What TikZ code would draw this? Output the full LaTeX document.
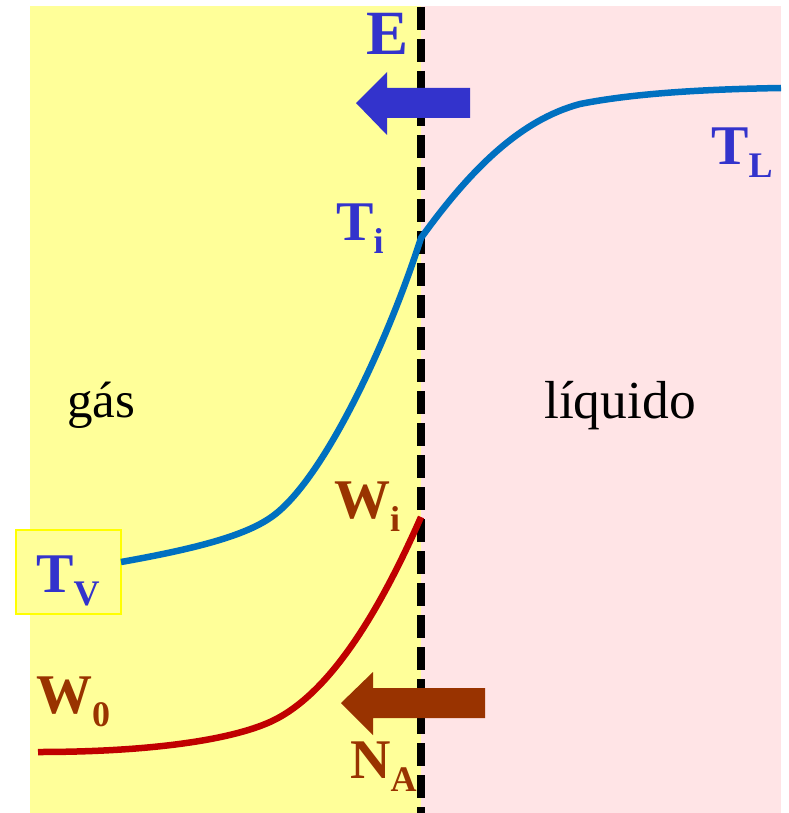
\documentclass[tikz,border=0pt]{standalone}
\usepackage{fontspec}
\setmainfont{Liberation Serif}
\definecolor{gasbg}{HTML}{FFFF99}
\definecolor{liqbg}{HTML}{FFE4E6}
\definecolor{tblue}{HTML}{3333CC}
\definecolor{cblue}{HTML}{0070C0}
\definecolor{cred}{HTML}{C00000}
\definecolor{tbrown}{HTML}{993300}
\definecolor{boxyellow}{HTML}{FFFF00}
\newcommand\mysub[1]{\raisebox{-13pt}{\fontsize{36}{38}\selectfont #1}}
\begin{document}
\begin{tikzpicture}[x=1pt,y=-1pt,
  lbl/.style={inner sep=0pt, anchor=base west, font=\bfseries\fontsize{56}{60}\selectfont},
  bluelbl/.style={lbl, text=tblue},
  brownlbl/.style={lbl, text=tbrown},
  phaselbl/.style={inner sep=0pt, anchor=base west, text=black, font=\fontsize{51}{56}\selectfont},
  curveline/.style={line width=6.5pt, line cap=butt},
  interface/.style={line width=8pt, dash pattern=on 23pt off 9pt, black}]
\useasboundingbox (0,0) rectangle (788,813);
% phases
\fill[gasbg] (30,6) rectangle (421,813);
\fill[liqbg] (421,6) rectangle (781,813);
% interface
\coordinate (itop) at (421,7);
\coordinate (ibot) at (421,813);
\draw[interface] (itop) -- (ibot);
% TV box
\node[draw=boxyellow, line width=2.5pt, fill=gasbg, minimum width=105pt, minimum height=84pt, inner sep=0pt] (tvbox) at (68.5,572) {};
% temperature curve
\coordinate (tvstart) at (121,562);
\coordinate (tbend) at (270,518);
\coordinate (ti) at (421,238);
\coordinate (tknee) at (580,104);
\coordinate (tlend) at (781,88);
\draw[curveline, cblue] (tvstart) .. controls (200,548) and (245,535) .. (tbend)
   .. controls (320,485) and (385,350) .. (ti)
   .. controls (470,170) and (520,120) .. (tknee)
   .. controls (640,92) and (720,89) .. (tlend);
% humidity curve
\coordinate (w0start) at (38,752);
\coordinate (wbend) at (270,722);
\coordinate (wi) at (421,517);
\draw[curveline, cred] (w0start) .. controls (150,752) and (230,740) .. (wbend)
   .. controls (330,695) and (380,610) .. (wi);
% flux arrows
\fill[tblue] (356,103) -- (387,72) -- (387,88) -- (470,88) -- (470,118) -- (387,118) -- (387,135) -- cycle;
\fill[tbrown] (341,703) -- (373,672) -- (373,688) -- (485,688) -- (485,718) -- (373,718) -- (373,735) -- cycle;
% labels
\node[bluelbl, font=\bfseries\fontsize{63}{66}\selectfont] (E) at (366,55) {E};
\node[bluelbl] (Ti) at (336,240) {T\mysub{i}};
\node[bluelbl] (TL) at (711,165) {T\mysub{L}};
\node[bluelbl] (TV) at (36,592) {T\mysub{V}};
\node[brownlbl] (Wi) at (334,518) {W\mysub{i}};
\node[brownlbl] (W0) at (36,713) {W\mysub{0}};
\node[brownlbl] (NA) at (350,778) {N\mysub{A}};
\node[phaselbl] (gas) at (67,417) {gás};
\node[phaselbl, font=\fontsize{53.5}{58}\selectfont] (liq) at (544,418) {líquido};
\end{tikzpicture}
\end{document}
